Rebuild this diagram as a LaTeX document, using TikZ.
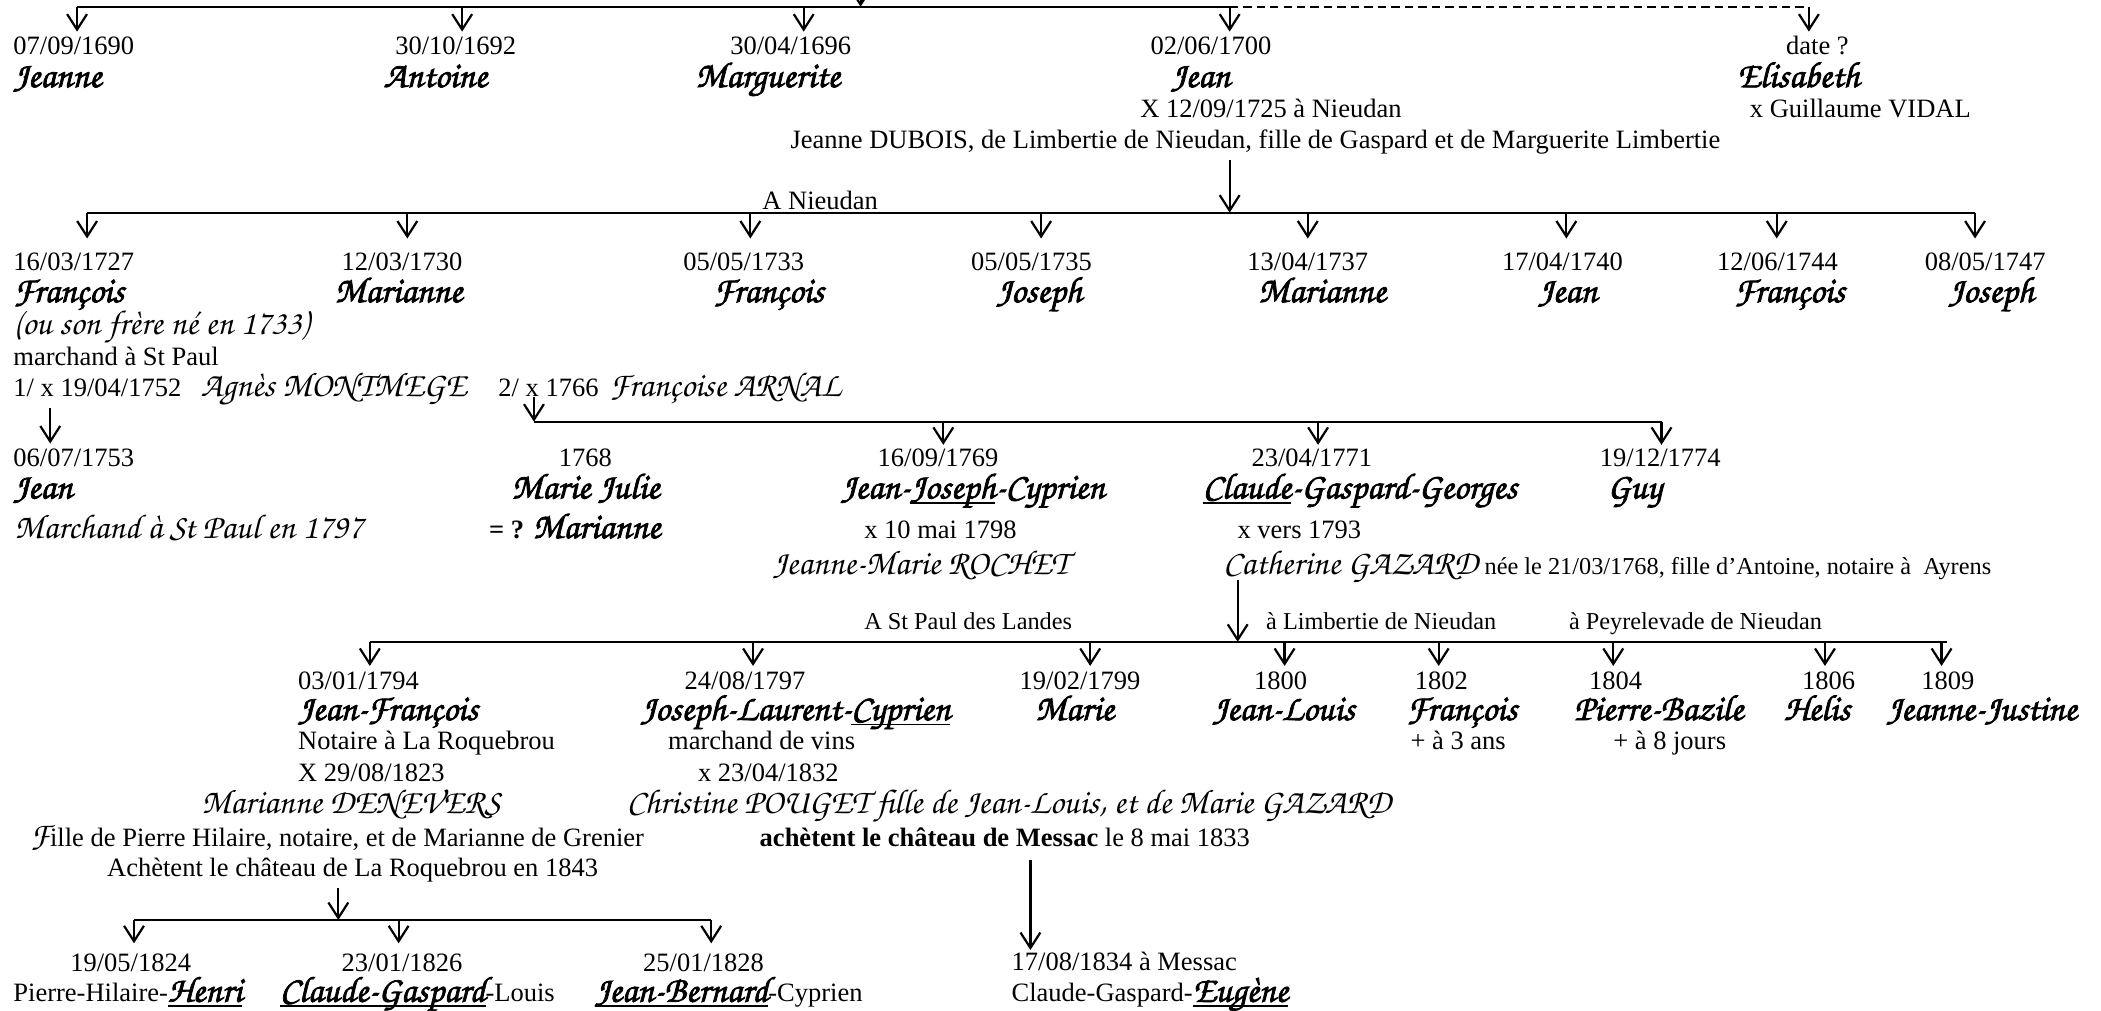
\documentclass[tikz,border=0pt]{standalone}
\usepackage{fontspec}
\setmainfont{Liberation Serif}
\newfontfamily\chorus{texgyrechorus-mediumitalic.otf}
\newfontfamily\chorusbold{texgyrechorus-mediumitalic.otf}[FakeBold=2]
\usetikzlibrary{arrows.meta}
% script faces for names and spouses
\newcommand\nmf{\chorusbold\fontsize{16.5}{18}\selectfont}
\newcommand\itf{\chorus\fontsize{15.6}{17}\selectfont}
% underline at a fixed depth below the baseline
\newcommand\ulname[1]{\setbox0\hbox{#1}\rlap{\rule[-2.4pt]{\wd0}{0.8pt}}\box0}

\tikzset{
  every node/.style={inner sep=0pt,outer sep=0pt},
  txt/.style={font=\fontsize{12}{14}\selectfont,anchor=base west},
  sm/.style={font=\fontsize{11}{13}\selectfont,anchor=base west},
  nm/.style={font=\nmf,anchor=base},
  it/.style={font=\itf,anchor=base west},
  bar/.style={line width=1pt},
  dbar/.style={line width=1pt,dash pattern=on 3.8pt off 2.3pt},
  arr/.style={line width=1pt,-{Straight Barb[length=7pt,width=9pt,line width=1pt]}},
}

\begin{document}
\begin{tikzpicture}[x=0.6067pt,y=-0.6067pt]
\clip (0,0) rectangle (1568,754.5);

% ---------- children of the first couple ----------
\coordinate (p0) at (642.3,-30);
\coordinate (g1L) at (57.5,5);
\coordinate (g1J) at (917.7,5);
\coordinate (g1R) at (1350,5);
\coordinate (g1M) at (642.3,5);
\draw[bar] (g1L) -- (g1J);
\draw[dbar] (g1J) -- (g1R);
\draw[arr] (p0) -- (g1M);
\foreach \n/\x in {a/57.5,b/344.9,c/599.8,d/917.7,e/1350}
  \coordinate (t1\n) at (\x,23.6);
\foreach \n in {a,b,c,d,e}
  \draw[arr] (t1\n |- g1L) -- (t1\n);

\node[txt] (d1690) at (10,41) {07/09/1690};
\node[nm,anchor=base west] (n1690) at (10,65) {Jeanne};
\node[txt] (d1692) at (295,41) {30/10/1692};
\node[nm] (n1692) at (325,65) {Antoine};
\node[txt] (d1696) at (545,41) {30/04/1696};
\node[nm] (n1696) at (573,65) {Marguerite};
\node[txt] (d1700) at (858.7,41) {02/06/1700};
\node[nm] (n1700) at (896,65) {Jean};
\node[txt] (m1725) at (851,88) {X 12/09/1725 à Nieudan};
\node[txt] (s1725) at (590,110.7) {Jeanne DUBOIS, de Limbertie de Nieudan, fille de Gaspard et de Marguerite Limbertie};
\node[txt] (dEli) at (1333,41) {date ?};
\node[nm] (nEli) at (1342,65) {Elisabeth};
\node[txt] (mEli) at (1306,88) {x Guillaume VIDAL};

% ---------- children of Jean and Jeanne DUBOIS ----------
\coordinate (c2) at (917.7,119.4);
\coordinate (g2J) at (917.7,158.7);
\coordinate (g2L) at (65,158.7);
\coordinate (g2R) at (1474,158.7);
\draw[bar] (g2L) -- (g2R);
\draw[arr] (c2) -- (g2J);
\node[txt] (lNieu) at (569,156.2) {A Nieudan};
\foreach \n/\x in {a/65,b/304,c/560,d/777,e/976,f/1169,g/1326,h/1474}
  \coordinate (t2\n) at (\x,178);
\foreach \n in {a,b,c,d,e,f,g,h}
  \draw[arr] (t2\n |- g2L) -- (t2\n);

\node[txt] (d1727) at (10,202) {16/03/1727};
\node[nm,anchor=base west] (n1727) at (10,225.5) {François};
\node[it] (o1727) at (10,250) {(ou son frère né en 1733)};
\node[txt] (j1727) at (10,272.5) {marchand à St Paul};
\node[txt] (m1752) at (10,296) {1/ x 19/04/1752};
\node[it] (s1752) at (150,296) {Agnès MONTMEGE};
\node[txt] (m1766) at (372,296) {2/ x 1766};
\node[it] (s1766) at (455,296) {Françoise ARNAL};
\node[txt] (d1730) at (255,202) {12/03/1730};
\node[nm] (n1730) at (297.5,225.5) {Marianne};
\node[txt] (d1733) at (510,202) {05/05/1733};
\node[nm] (n1733) at (573.5,225.5) {François};
\node[txt] (d1735) at (724.8,202) {05/05/1735};
\node[nm] (n1735) at (775.5,225.5) {Joseph};
\node[txt] (d1737) at (931,202) {13/04/1737};
\node[nm] (n1737) at (986.7,225.5) {Marianne};
\node[txt] (d1740) at (1121,202) {17/04/1740};
\node[nm] (n1740) at (1170,225.5) {Jean};
\node[txt] (d1744) at (1281.5,202) {12/06/1744};
\node[nm] (n1744) at (1335.5,225.5) {François};
\node[txt] (d1747) at (1436.5,202) {08/05/1747};
\node[nm] (n1747) at (1486,225.5) {Joseph};

% ---------- children of François ----------
\coordinate (c3a) at (37.5,304.6);
\coordinate (t3a) at (37.5,331);
\draw[arr] (c3a) -- (t3a);
\coordinate (c3b) at (398.5,296);
\coordinate (g3L) at (398.5,314.7);
\coordinate (g3R) at (1240,314.7);
\draw[bar] (g3L) -- (g3R);
\draw[arr] (c3b) -- (g3L);
\foreach \n/\x in {b/704,c/983.7,d/1240}
  \coordinate (t3\n) at (\x,332);
\foreach \n in {b,c,d}
  \draw[arr] (t3\n |- g3L) -- (t3\n);

\node[txt] (d1753) at (10,348) {06/07/1753};
\node[nm,anchor=base west] (n1753) at (10,372) {Jean};
\node[it] (j1753) at (11,401.6) {Marchand à St Paul en 1797};
\node[txt] (d1768) at (417,348) {1768};
\node[nm] (n1768) at (437,372) {Marie Julie};
\node[txt] (e1768) at (365,401.6) {\textbf{= ?} {\nmf Marianne}};
\node[txt] (d1769) at (655,348) {16/09/1769};
\node[nm] (n1769) at (726,372) {Jean-\ulname{Joseph}-Cyprien};
\node[txt] (m1798) at (645,401.6) {x 10 mai 1798};
\node[it,anchor=base] (s1798) at (687,428.5) {Jeanne-Marie ROCHET};
\node[txt] (d1771) at (934,348) {23/04/1771};
\node[nm] (n1771) at (1015,372) {\ulname{Claude}-Gaspard-Georges};
\node[txt] (m1793) at (923.6,401.6) {x vers 1793};
\node[txt,anchor=base east] (s1793) at (1486,428.5) {{\itf Catherine GAZARD} {\fontsize{11}{13}\selectfont née le 21/03/1768, fille d’Antoine, notaire à\ \ Ayrens}};
\node[txt] (d1774) at (1194,348) {19/12/1774};
\node[nm] (n1774) at (1220,372) {Guy};

% ---------- children of Claude and Catherine GAZARD ----------
\coordinate (c4) at (923.7,433);
\coordinate (g4C) at (923.7,479);
\coordinate (g4L) at (276,479);
\coordinate (g4R) at (1453,479);
\draw[bar] (g4L) -- (g4R);
\draw[arr] (c4) -- (g4C);
\node[sm] (lStP) at (645,470) {A St Paul des Landes};
\node[sm] (lLim) at (945,470) {à Limbertie de Nieudan};
\node[sm] (lPey) at (1171,470) {à Peyrelevade de Nieudan};
\foreach \n/\x in {a/276,b/562,c/813.6,d/958.7,e/1073.7,f/1204,g/1362,h/1449}
  \coordinate (t4\n) at (\x,497);
\foreach \n in {a,b,c,d,e,f,g,h}
  \draw[arr] (t4\n |- g4L) -- (t4\n);

\node[txt] (d1794) at (222.5,514.4) {03/01/1794};
\node[nm,anchor=base west] (n1794) at (222.5,537.4) {Jean-François};
\node[txt] (j1794) at (222.5,559.7) {Notaire à La Roquebrou};
\node[txt] (m1823) at (222.5,583.4) {X 29/08/1823};
\node[it,anchor=base] (s1823) at (262,607) {Marianne DENEVERS};
\node[txt] (f1823) at (22.5,632) {{\itf F}ille de Pierre Hilaire, notaire, et de Marianne de Grenier};
\node[txt] (a1843) at (80,654) {Achètent le château de La Roquebrou en 1843};
\node[txt] (d1797) at (511,514.4) {24/08/1797};
\node[nm] (n1797) at (593.7,537.4) {Joseph-Laurent-\ulname{Cyprien}};
\node[txt] (j1797) at (498.7,559.7) {marchand de vins};
\node[txt] (m1832) at (521,583.4) {x 23/04/1832};
\node[it,anchor=base] (s1832) at (753,607) {Christine POUGET fille de Jean-Louis, et de Marie GAZARD};
\node[txt] (a1833) at (567,632) {\textbf{achètent le château de Messac} le 8 mai 1833};
\node[txt] (d1799) at (761,514.4) {19/02/1799};
\node[nm] (n1799) at (802,537.4) {Marie};
\node[txt] (d1800) at (936,514.4) {1800};
\node[nm] (n1800) at (958,537.4) {Jean-Louis};
\node[txt] (d1802) at (1056,514.4) {1802};
\node[nm] (n1802) at (1091,537.4) {François};
\node[txt] (x1802) at (1052.7,559.7) {+ à 3 ans};
\node[txt] (d1804) at (1186,514.4) {1804};
\node[nm] (n1804) at (1238,537.4) {Pierre-Bazile};
\node[txt] (x1804) at (1204,559.7) {+ à 8 jours};
\node[txt] (d1806) at (1345,514.4) {1806};
\node[nm] (n1806) at (1356,537.4) {Helis};
\node[txt] (d1809) at (1434,514.4) {1809};
\node[nm] (n1809) at (1479,537.4) {Jeanne-Justine};

% ---------- children of Jean-François and Marianne DENEVERS ----------
\coordinate (c5) at (252.5,663);
\coordinate (g5C) at (252.5,686.6);
\coordinate (g5L) at (100,686.6);
\coordinate (g5R) at (530.8,686.6);
\draw[bar] (g5L) -- (g5R);
\draw[arr] (c5) -- (g5C);
\foreach \n/\x in {a/100,b/297.5,c/530.8}
  \coordinate (t5\n) at (\x,704);
\foreach \n in {a,b,c}
  \draw[arr] (t5\n |- g5L) -- (t5\n);

\node[txt] (d1824) at (52.5,725) {19/05/1824};
\node[txt] (n1824) at (10,747.6) {Pierre-Hilaire-\ulname{{\nmf Henri}}};
\node[txt] (d1826) at (255,725) {23/01/1826};
\node[txt] (n1826) at (209,747.6) {\ulname{{\nmf Claude-Gaspard}}-Louis};
\node[txt] (d1828) at (480,725) {25/01/1828};
\node[txt] (n1828) at (444,747.6) {\ulname{{\nmf Jean-Bernard}}-Cyprien};

% ---------- son of Joseph-Laurent-Cyprien and Christine POUGET ----------
\coordinate (c6) at (769,642);
\coordinate (t6) at (769,709);
\draw[arr] (c6) -- (t6);
\node[txt] (d1834) at (755,724) {17/08/1834 à Messac};
\node[txt] (n1834) at (755,747.6) {Claude-Gaspard-\ulname{{\nmf Eugène}}};

\end{tikzpicture}
\end{document}
